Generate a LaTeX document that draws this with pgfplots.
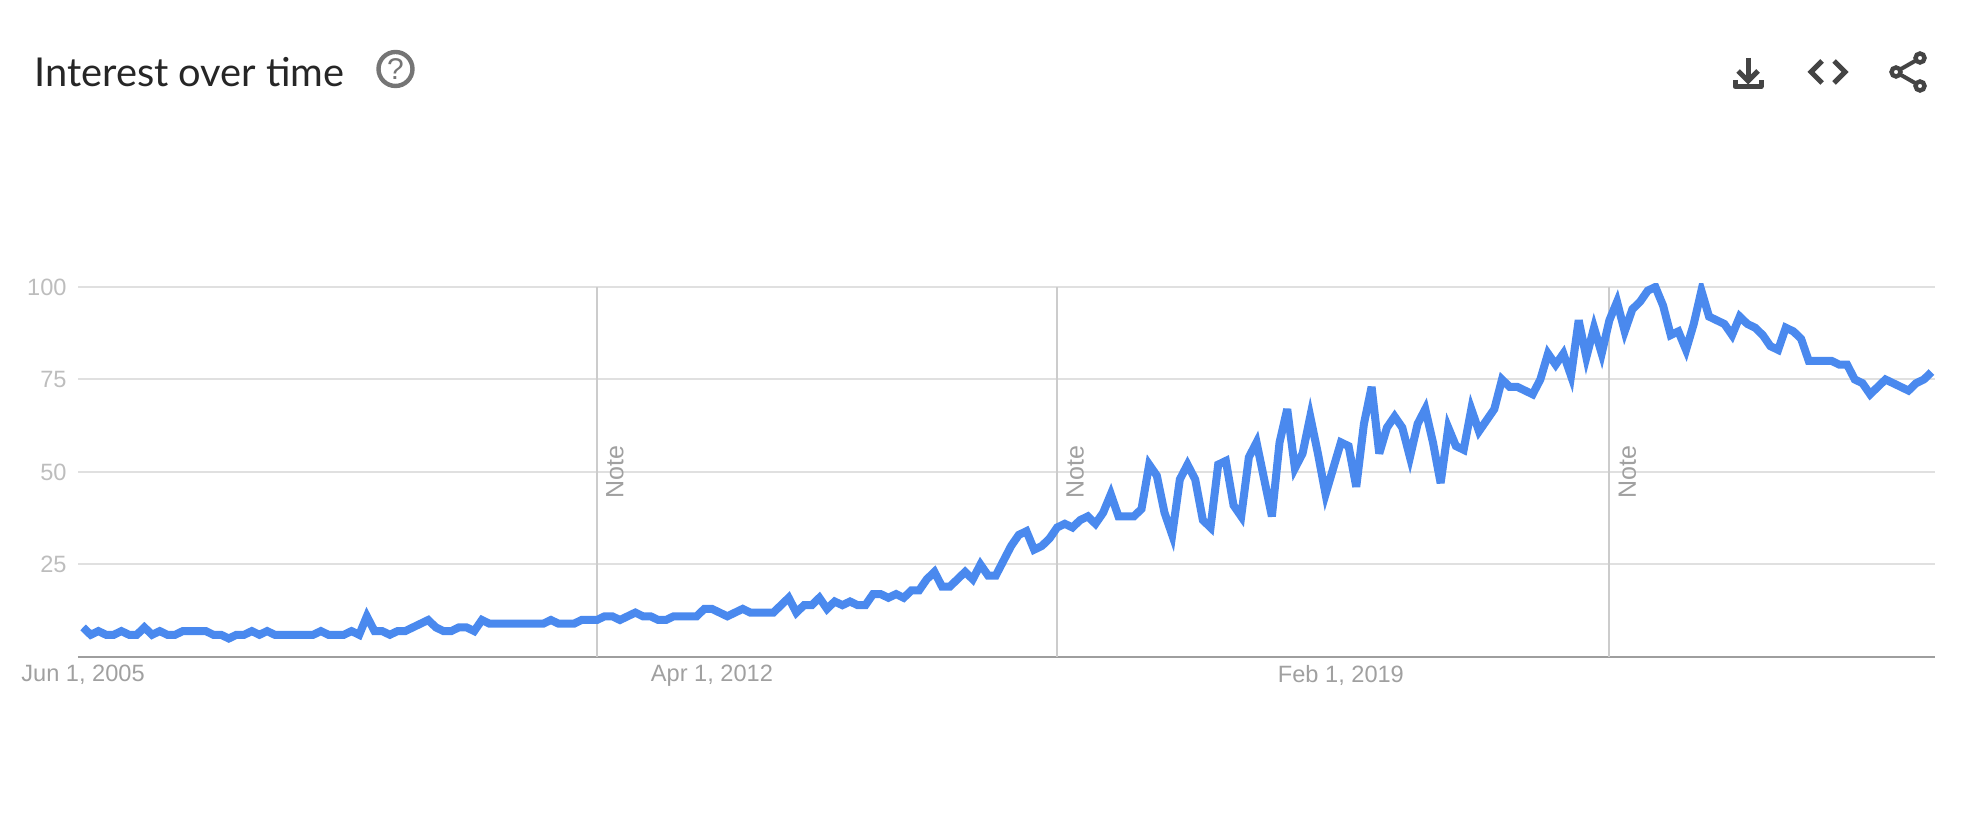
\documentclass[border=0pt]{standalone}
\usepackage{fontspec}
\setmainfont{Liberation Sans}
\newfontfamily\titlefont{Lato}
\usepackage{pgfplots}
\pgfplotsset{compat=1.18}

\definecolor{trendblue}{HTML}{4A89EE}
\definecolor{gridgray}{HTML}{E0E0E0}
\definecolor{notegray}{HTML}{CCCCCC}
\definecolor{axisgray}{HTML}{9E9E9E}
\definecolor{ylabelgray}{HTML}{BDBDBD}
\definecolor{xlabelgray}{HTML}{A0A0A0}
\definecolor{icongray}{HTML}{444444}
\definecolor{helpgray}{HTML}{757575}

\begin{document}
\begin{tikzpicture}
% page is 1984x818 px, at 0.5pt per px
\path[use as bounding box] (0,0) rectangle (992pt,409pt);
\begin{axis}[
  at={(39pt,80.5pt)}, anchor=south west,
  scale only axis,
  width=928.5pt,
  height=186.85pt, % 101 units at 1.85pt
  xmin=-0.66, xmax=241.46,
  ymin=0, ymax=101,
  axis y line*=left,
  axis x line*=bottom,
  y axis line style={draw=none},
  x axis line style={draw=axisgray,line width=1.2pt,-},
  axis line style={-},
  major tick length=0pt,
  ytick={25,50,75,100},
  xtick={0,82,164},
  xticklabels={{Jun 1, 2005},{Apr 1, 2012},{Feb 1, 2019}},
  ymajorgrids,
  grid style={gridgray,line width=1pt},
  tick label style={font=\fontsize{11.8}{14}\selectfont},
  yticklabel style={text=ylabelgray,inner sep=0pt,xshift=-5.5pt},
  xticklabel style={text=xlabelgray,inner sep=0pt,yshift=-4pt},
  /pgf/number format/assume math mode=true,
]
% note lines: Jan 2011, Jan 2016, Jan 2022
\addplot[notegray,line width=1pt] coordinates {(67,0)(67,100)};
\addplot[notegray,line width=1pt] coordinates {(127,0)(127,100)};
\addplot[notegray,line width=1pt] coordinates {(199,0)(199,100)};
\addplot[trendblue,line width=4pt,line join=miter,miter limit=5] coordinates {
(0,8)(1,6)(2,7)(3,6)(4,6)(5,7)(6,6)(7,6)(8,8)(9,6)
(10,7)(11,6)(12,6)(13,7)(14,7)(15,7)(16,7)(17,6)(18,6)(19,5)
(20,6)(21,6)(22,7)(23,6)(24,7)(25,6)(26,6)(27,6)(28,6)(29,6)
(30,6)(31,7)(32,6)(33,6)(34,6)(35,7)(36,6)(37,11)(38,7)(39,7)
(40,6)(41,7)(42,7)(43,8)(44,9)(45,10)(46,8)(47,7)(48,7)(49,8)
(50,8)(51,7)(52,10)(53,9)(54,9)(55,9)(56,9)(57,9)(58,9)(59,9)
(60,9)(61,10)(62,9)(63,9)(64,9)(65,10)(66,10)(67,10)(68,11)(69,11)
(70,10)(71,11)(72,12)(73,11)(74,11)(75,10)(76,10)(77,11)(78,11)(79,11)
(80,11)(81,13)(82,13)(83,12)(84,11)(85,12)(86,13)(87,12)(88,12)(89,12)
(90,12)(91,14)(92,16)(93,12)(94,14)(95,14)(96,16)(97,13)(98,15)(99,14)
(100,15)(101,14)(102,14)(103,17)(104,17)(105,16)(106,17)(107,16)(108,18)(109,18)
(110,21)(111,23)(112,19)(113,19)(114,21)(115,23)(116,21)(117,25)(118,22)(119,22)
(120,26)(121,30)(122,33)(123,34)(124,29)(125,30)(126,32)(127,35)(128,36)(129,35)
(130,37)(131,38)(132,36)(133,39)(134,44)(135,38)(136,38)(137,38)(138,40)(139,52)
(140,49)(141,39)(142,33)(143,48)(144,52)(145,48)(146,37)(147,35)(148,52)(149,53)
(150,41)(151,38)(152,54)(153,58)(154,48)(155,38)(156,58)(157,67)(158,51)(159,55)
(160,65)(161,55)(162,44)(163,51)(164,58)(165,57)(166,46)(167,63)(168,73)(169,55)
(170,62)(171,65)(172,62)(173,54)(174,63)(175,67)(176,58)(177,47)(178,62)(179,57)
(180,56)(181,67)(182,61)(183,64)(184,67)(185,75)(186,73)(187,73)(188,72)(189,71)
(190,75)(191,82)(192,79)(193,82)(194,76)(195,91)(196,81)(197,89)(198,82)(199,91)
(200,96)(201,88)(202,94)(203,96)(204,99)(205,100)(206,95)(207,87)(208,88)(209,83)
(210,90)(211,99)(212,92)(213,91)(214,90)(215,87)(216,92)(217,90)(218,89)(219,87)
(220,84)(221,83)(222,89)(223,88)(224,86)(225,80)(226,80)(227,80)(228,80)(229,79)
(230,79)(231,75)(232,74)(233,71)(234,73)(235,75)(236,74)(237,73)(238,72)(239,74)
(240,75)(241,77)
};
\node[xshift=4.4pt,rotate=90,anchor=north west,inner sep=0pt,text=xlabelgray,
  font=\fontsize{12.5}{14}\selectfont] at (axis cs:67,42.7) {Note};
\node[xshift=4.4pt,rotate=90,anchor=north west,inner sep=0pt,text=xlabelgray,
  font=\fontsize{12.5}{14}\selectfont] at (axis cs:127,42.7) {Note};
\node[xshift=4.4pt,rotate=90,anchor=north west,inner sep=0pt,text=xlabelgray,
  font=\fontsize{12.5}{14}\selectfont] at (axis cs:199,42.7) {Note};
\end{axis}
% header, coordinates in reference pixels
\begin{scope}[x=0.5pt,y=-0.5pt,yshift=409pt]
  \node[anchor=base west,inner sep=0pt,text=black!85,font=\titlefont\fontsize{19.9}{24}\selectfont]
    at (34,87) {Interest over time};
  \draw[helpgray,line width=2.2pt] (395.5,69) circle[radius=17];
  \node[text=helpgray,font=\fontsize{15}{16}\selectfont,inner sep=0pt] at (395.5,69) {?};
  \begin{scope}[icongray,line width=2.5pt]
    \draw (1748,58)--(1748,79);
    \draw (1738,71)--(1748,81)--(1758,71);
    \draw[line join=round] (1735,80)--(1735,86.5)--(1761,86.5)--(1761,80);
    \draw (1822,61)--(1811,72)--(1822,83);
    \draw (1834,61)--(1845,72)--(1834,83);
    \draw[line width=2pt] (1901,69)--(1915,61);
    \draw[line width=2pt] (1901,75)--(1915,83);
    \draw[line width=2.2pt] (1896,72) circle[radius=4.5];
    \draw[line width=2.2pt] (1920,58) circle[radius=4.5];
    \draw[line width=2.2pt] (1920,86) circle[radius=4.5];
  \end{scope}
\end{scope}
\end{tikzpicture}
\end{document}
